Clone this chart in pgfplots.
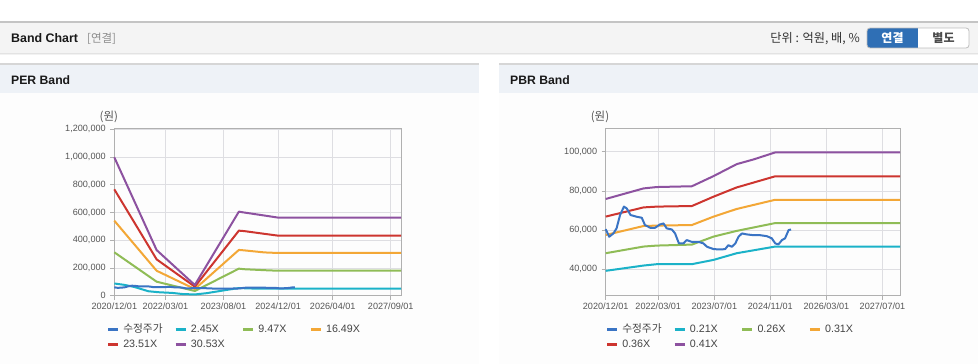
\documentclass[border=0pt]{standalone}
\usepackage{fontspec}
\setmainfont{Liberation Sans}
\newfontfamily\kr{Noto Sans CJK KR}
\usepackage{pgfplots}
\pgfplotsset{compat=1.18}
\usepackage{pgfplotstable}

\definecolor{cPrice}{RGB}{58,116,196}
\definecolor{cC}{RGB}{27,178,200}
\definecolor{cG}{RGB}{143,188,86}
\definecolor{cO}{RGB}{243,167,54}
\definecolor{cR}{RGB}{205,53,47}
\definecolor{cP}{RGB}{141,82,160}
\definecolor{tickgray}{RGB}{85,85,85}
\definecolor{legtext}{RGB}{68,68,68}
\definecolor{gridc}{RGB}{222,222,226}
\definecolor{framec}{RGB}{176,176,176}
\definecolor{hdrbg}{RGB}{244,244,244}
\definecolor{hdrline}{RGB}{196,196,196}
\definecolor{panelhdr}{RGB}{238,242,247}
\definecolor{panelline}{RGB}{214,214,214}
\definecolor{panelbody}{RGB}{253,253,253}
\definecolor{btnblue}{RGB}{47,111,181}
\definecolor{btnline}{RGB}{190,190,190}

% ---------- price (수정주가), months since 2020/12 ----------
\pgfplotstableread{
m v
0 60500
1.0 56600
2.2 58300
3.1 60900
4.1 67700
5.2 72000
6.0 71100
7.1 67700
8.9 66800
10.3 66300
11.2 62600
12.7 61200
14.1 61200
15.5 62900
16.5 63400
17.4 60900
18.9 60300
19.8 58300
20.9 53200
22.2 53200
23.1 54900
24.6 54000
26.5 54000
27.9 53200
28.9 51500
30.8 50300
32.7 50100
34.1 50300
35.0 52300
36.0 51500
37.0 53200
37.9 56600
38.9 58300
40.3 57800
42.2 57400
44.1 57400
46.0 56900
47.4 55800
48.4 53200
49.3 52700
50.3 54900
51.2 55800
52.2 60000
52.9 60300
}\price

% ---------- PER bands ----------
\pgfplotstableread{
m v
0 88000
3 78000
6 62000
10 32000
13 25000
17 20000
20 12000
23.6 9000
27 18000
30 30000
33 42000
36.5 55000
40 52000
44 50500
84 50500
}\perC
\pgfplotstableread{
m v
0 313000
12.4 101000
23.6 34000
36.5 195000
38 191000
44 184000
48 180000
84 180000
}\perG
\pgfplotstableread{
m v
0 541000
12.4 180000
23.6 48000
36.5 330000
38 327000
44 312000
48 308000
84 308000
}\perO
\pgfplotstableread{
m v
0 767000
12.4 262000
23.6 65000
36.5 469000
38 466000
44 446000
48 433000
84 433000
}\perR
\pgfplotstableread{
m v
0 998000
12.4 329000
23.6 77000
36.5 606000
38 600000
44 578000
48 563000
84 563000
}\perP

% ---------- PBR bands ----------
\pgfplotstableread{
m v
0 39200
10.8 41900
14.6 42600
24.6 42600
30.8 44800
37.4 48200
48.4 51600
84 51600
}\pbrC
\pgfplotstableread{
m v
0 48200
10.8 51600
14.6 52100
24.6 52600
30.8 56700
37.4 59600
48.4 63600
84 63600
}\pbrG
\pgfplotstableread{
m v
0 57500
10.8 62100
14.6 62300
24.6 62600
30.8 66900
37.4 70800
48.4 75500
84 75500
}\pbrO
\pgfplotstableread{
m v
0 66900
10.8 71600
14.6 72000
24.6 72300
30.8 77100
37.4 81800
48.4 87500
84 87500
}\pbrR
\pgfplotstableread{
m v
0 75900
10.8 81300
14.6 82000
24.6 82400
30.8 87600
37.4 93700
42.2 96100
48.4 99700
84 99700
}\pbrP

\pgfplotsset{
  bandaxis/.style={
    scale only axis,
    height=167.4pt,
    anchor=south west,
    xmin=0, xmax=84,
    clip=false,
    axis line style={draw=framec, line width=0.8pt},
    tick align=outside,
    xtick pos=left, ytick pos=left,
    major tick length=4pt,
    tick style={draw=framec, line width=0.7pt},
    xmajorgrids, ymajorgrids,
    major grid style={draw=gridc, line width=0.8pt},
    ticklabel style={font=\fontsize{9.1}{10}\selectfont, text=tickgray, inner sep=0pt},
    yticklabel style={xshift=-4.4pt},
    xticklabel style={yshift=-2.6pt},
    scaled y ticks=false,
    /pgf/number format/assume math mode=true,
    /pgf/number format/1000 sep={,},
    /pgf/number format/fixed,
    legend columns=4,
    legend cell align=left,
    legend image code/.code={\draw[##1, line width=2.6pt, line cap=butt] (0pt,0pt) -- (10pt,0pt);},
    legend style={draw=none, fill=none, at={(0,0)}, anchor=north west,
      yshift=-29.3pt, inner sep=0pt, outer sep=0pt, row sep=5.1pt,
      font=\fontsize{10.7}{12}\selectfont, text=legtext,
      nodes={inner sep=0pt, text height=7.5pt, text depth=2pt},
      /tikz/every odd column/.style={column sep=4pt},
      /tikz/every even column/.style={column sep=0pt}},
  },
  bline/.style={line width=2pt, line join=round},
}

\newcommand{\lgbox}[1]{\makebox[51pt][l]{#1}}

\begin{document}
\begin{tikzpicture}
\begin{scope}[x=1pt,y=1pt]
  \path[use as bounding box] (0,0) rectangle (978,364);
  \fill[white] (0,0) rectangle (978,364);
  % top header bar
  \fill[gray!10] (0,308.5) rectangle (978,311.3);
  \fill[gray!22] (0,310.3) rectangle (978,311.3);
  \fill[hdrbg] (0,311.3) rectangle (978,342);
  \draw[hdrline, line width=1.4pt] (0,342) -- (978,342);
  \node[inner sep=0pt, anchor=base west, font=\bfseries\fontsize{12.4}{14}\selectfont, text=black!90] at (11,321.5) {Band Chart};
  \node[inner sep=0pt, anchor=base west, font=\kr\fontsize{11.5}{13}\selectfont, text=black!45] at (87,321.5) {[연결]};
  \node[inner sep=0pt, anchor=base east, font=\kr\fontsize{12.2}{13}\selectfont, text=black!80] at (860,321.8) {단위 : 억원, 배, \%};
  \begin{scope}
    \clip[rounded corners=3pt] (867,316) rectangle (969,336);
    \fill[white] (867,316) rectangle (969,336);
    \fill[btnblue] (867,316) rectangle (918,336);
  \end{scope}
  \draw[btnline, rounded corners=3pt, line width=0.8pt] (867,316) rectangle (969,336);
  \node[font=\kr\bfseries\fontsize{12}{13}\selectfont, text=white] at (892.5,326) {연결};
  \node[font=\kr\bfseries\fontsize{12}{13}\selectfont, text=black!70] at (943.5,326) {별도};
  % panels
  \foreach \a/\b in {0/479.3, 499.3/978} {
    \fill[panelbody] (\a,0) rectangle (\b,271.3);
    \fill[panelhdr] (\a,271.3) rectangle (\b,300);
    \draw[panelline, line width=1.6pt] (\a,300) -- (\b,300);
  }
  \node[inner sep=0pt, anchor=base west, font=\bfseries\fontsize{12.2}{14}\selectfont, text=black!90] at (11,279) {PER Band};
  \node[inner sep=0pt, anchor=base west, font=\bfseries\fontsize{12.2}{14}\selectfont, text=black!90] at (510,279) {PBR Band};
\end{scope}

% ================= PER =================
\begin{axis}[bandaxis,
  at={(114.3pt,68.3pt)}, width=286.7pt,
  ymin=0, ymax=1207000,
  ytick={0,200000,400000,600000,800000,1000000,1200000},
  xtick={0,15,32,48,64,81},
  xticklabels={2020/12/01,2022/03/01,2023/08/01,2024/12/01,2026/04/01,2027/09/01},
  legend style={xshift=-7.6pt},
]
\addlegendimage{cPrice}
\addlegendentry{\lgbox{\kr 수정주가}}
\addplot[cC, bline] table[x=m,y=v] {\perC};
\addlegendentry{\lgbox{2.45X}}
\addplot[cG, bline] table[x=m,y=v] {\perG};
\addlegendentry{\lgbox{9.47X}}
\addplot[cO, bline] table[x=m,y=v] {\perO};
\addlegendentry{\lgbox{16.49X}}
\addplot[cR, bline] table[x=m,y=v] {\perR};
\addlegendentry{\lgbox{23.51X}}
\addplot[cP, bline] table[x=m,y=v] {\perP};
\addlegendentry{\lgbox{30.53X}}
\addplot[cPrice, bline, forget plot] table[x=m,y=v] {\price};
\node[font=\kr\fontsize{11.5}{12}\selectfont, text=tickgray] at (rel axis cs:0,1) [xshift=-5.5pt, yshift=11pt] {(원)};
\end{axis}

% ================= PBR =================
\begin{axis}[bandaxis,
  at={(605.7pt,68.3pt)}, width=294.3pt,
  ymin=26500, ymax=112000,
  ytick={40000,60000,80000,100000},
  xtick={0,15,31,47,63,79},
  xticklabels={2020/12/01,2022/03/01,2023/07/01,2024/11/01,2026/03/01,2027/07/01},
  legend style={xshift=0pt},
]
\addlegendimage{cPrice}
\addlegendentry{\lgbox{\kr 수정주가}}
\addplot[cC, bline] table[x=m,y=v] {\pbrC};
\addlegendentry{\lgbox{0.21X}}
\addplot[cG, bline] table[x=m,y=v] {\pbrG};
\addlegendentry{\lgbox{0.26X}}
\addplot[cO, bline] table[x=m,y=v] {\pbrO};
\addlegendentry{\lgbox{0.31X}}
\addplot[cR, bline] table[x=m,y=v] {\pbrR};
\addlegendentry{\lgbox{0.36X}}
\addplot[cP, bline] table[x=m,y=v] {\pbrP};
\addlegendentry{\lgbox{0.41X}}
\addplot[cPrice, bline, forget plot] table[x=m,y=v] {\price};
\node[font=\kr\fontsize{11.5}{12}\selectfont, text=tickgray] at (rel axis cs:0,1) [xshift=-5.7pt, yshift=11pt] {(원)};
\end{axis}
\end{tikzpicture}
\end{document}
